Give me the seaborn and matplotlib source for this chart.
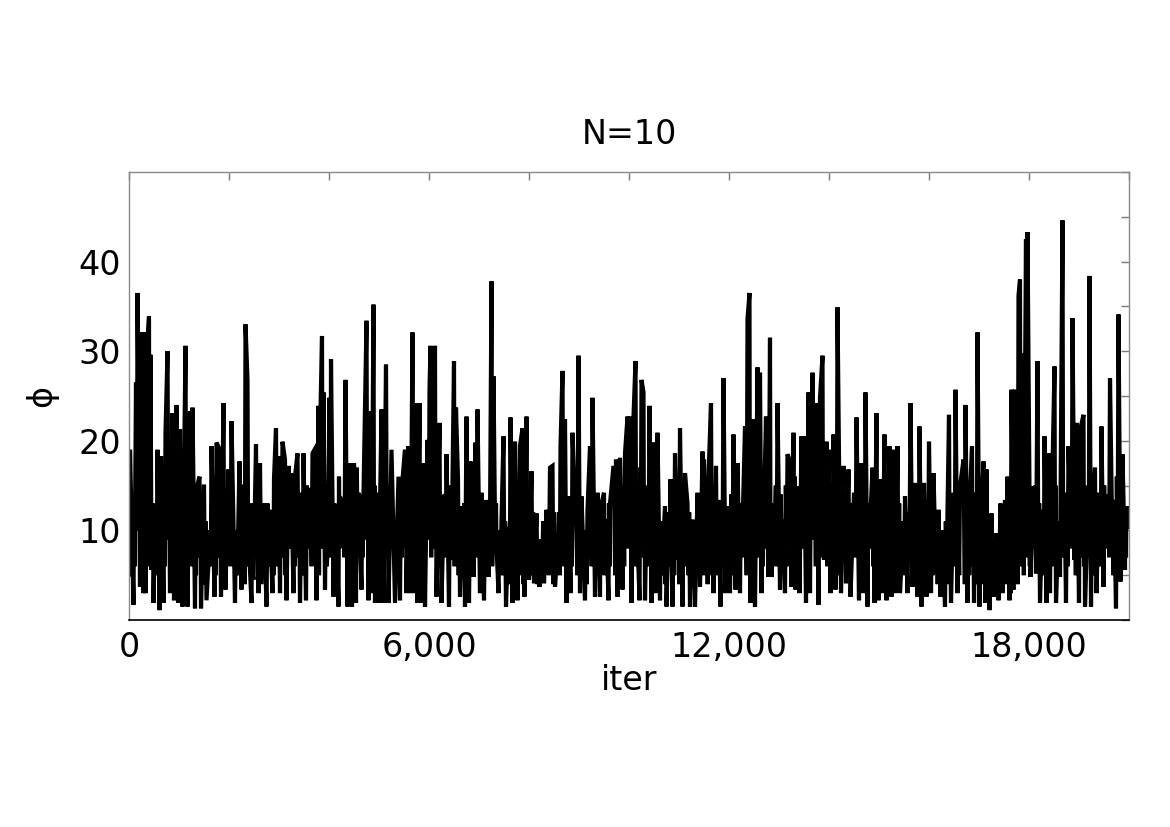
import numpy as np
import pandas as pd
import matplotlib
matplotlib.use("Agg")
import matplotlib.pyplot as plt
import seaborn as sns

# ---- data (iteration, phi): spikes and dips ----
iters_a = [0, 20, 90, 120, 140, 170, 220, 250, 290, 310, 330, 370, 400, 430, 450, 490, 520, 570, 610, 640,
           690, 730, 770, 820, 870, 900, 950, 990, 1020, 1070, 1130, 1170, 1220, 1270, 1320, 1350, 1410, 1440,
           1500, 1550, 1610, 1650, 1710, 1750, 1800, 1840, 1890, 1930, 1990, 2050, 2120, 2170, 2210, 2250,
           2290, 2330, 2370, 2410, 2450, 2490, 2540, 2590, 2620, 2690, 2750, 2810, 2870, 2900, 2940, 2990,
           3020, 3070, 3120, 3150, 3190, 3240, 3290, 3320, 3370, 3420, 3450, 3490, 3540, 3590, 3620, 3670,
           3710, 3750, 3790, 3820, 3860, 3890, 3920, 3970, 4010, 4040, 4090, 4140, 4190, 4220, 4270, 4330,
           4370, 4420, 4460, 4500, 4540, 4590, 4650, 4690, 4750, 4790, 4820, 4850, 4890, 4920, 4950, 4990,
           5050, 5090, 5140, 5190, 5250, 5320, 5390]
phi_a = [5.0, 19.0, 1.7, 10.8, 26.5, 36.5, 3.7, 32.1, 3.0, 32.1, 3.0, 31.3, 33.9, 29.6, 5.6, 1.9, 10.4, 19.0, 1.1, 18.3,
         1.9, 20.9, 30.0, 3.0, 23.1, 2.2, 24.0, 1.9, 21.3, 1.5, 30.6, 1.5, 23.3, 23.7, 1.3, 14.7, 16.0, 1.3,
         15.1, 2.2, 8.6, 19.4, 2.6, 19.8, 19.2, 2.6, 24.2, 3.4, 16.8, 22.2, 1.9, 6.0, 17.7, 3.4,
         15.1, 33.0, 26.8, 6.7, 1.9, 4.5, 19.6, 3.0, 17.5, 13.0, 1.5, 12.3, 3.0, 15.8, 21.4, 18.3,
         3.0, 19.9, 17.9, 2.2, 17.2, 16.4, 3.0, 16.0, 18.6, 1.9, 14.2, 18.6, 2.2, 14.7, 14.2, 18.6,
         19.0, 2.2, 23.9, 20.5, 31.7, 25.4, 3.4, 7.5, 24.8, 29.1, 2.6, 12.7, 1.5, 13.8, 12.7, 26.8,
         1.5, 17.5, 1.5, 17.5, 1.9, 14.2, 3.4, 14.2, 33.4, 2.2, 23.3, 3.0, 35.2, 1.9, 14.2, 1.9,
         23.5, 1.9, 28.5, 1.9, 19.0, 1.9, 16.0]

iters_b = [5420, 5470, 5520, 5550, 5590, 5630, 5670, 5710, 5740, 5770, 5810, 5840, 5890, 5920, 5970, 6010, 6030,
           6070, 6120, 6150, 6210, 6250, 6300, 6350, 6400, 6450, 6500, 6540, 6580, 6620, 6670, 6720, 6750,
           6800, 6830, 6890, 6930, 6970, 7020, 7050, 7100, 7150, 7190, 7220, 7250, 7290, 7320, 7350, 7390,
           7450, 7490, 7540, 7590, 7630, 7670, 7720, 7770, 7820, 7870, 7910, 7950, 8000, 8050, 8100, 8150,
           8210, 8250, 8300, 8350, 8420, 8470, 8520, 8590, 8630, 8670, 8720, 8750, 8790, 8830, 8870, 8920,
           8990, 9020, 9050, 9120, 9170, 9220, 9270, 9320, 9370, 9420, 9450, 9500, 9540, 9590, 9620, 9690,
           9740, 9770, 9820, 9870, 9920, 9970, 10020, 10050, 10090, 10130, 10170, 10210, 10250, 10290,
           10320, 10350, 10410, 10450, 10490, 10530, 10570, 10620, 10670, 10720, 10750, 10790, 10830,
           10870, 10920, 10970, 11020, 11070, 11120, 11170, 11220, 11270, 11320, 11370, 11420, 11470,
           11500, 11540, 11590, 11640, 11690, 11740, 11790, 11830, 11890, 11930, 11970, 12020, 12090,
           12130, 12170, 12220, 12270, 12320, 12370, 12410, 12430, 12470, 12520, 12570, 12620, 12650,
           12690, 12740, 12790, 12820, 12850, 12920, 12970]
phi_b = [2.2, 15.7, 19.0, 3.0, 19.4, 3.0, 32.1, 3.0, 24.2, 1.9, 24.2, 1.9, 17.5, 1.5, 20.1, 25.7, 30.6,
         11.2, 30.6, 2.6, 22.0, 1.9, 13.8, 18.5, 1.5, 6.7, 28.9, 23.7, 15.7, 2.6, 12.7, 1.5, 22.7,
         1.9, 17.7, 4.8, 19.8, 23.5, 3.0, 14.2, 2.2, 13.4, 4.8, 11.2, 37.8, 27.2, 10.8, 8.2, 3.0,
         11.2, 20.5, 1.5, 10.4, 22.6, 1.9, 19.9, 2.2, 19.4, 21.4, 2.6, 22.7, 4.5, 16.6, 4.1, 11.9,
         3.7, 8.9, 4.1, 12.3, 17.0, 17.2, 3.7, 9.3, 19.4, 27.8, 22.4, 1.9, 13.8, 3.0, 20.9, 12.7,
         29.5, 3.0, 13.8, 2.2, 12.3, 19.4, 24.8, 2.6, 14.2, 2.6, 13.0, 14.2, 11.2, 2.2, 13.0, 17.2,
         17.9, 2.6, 18.1, 3.4, 18.6, 22.7, 22.7, 1.9, 22.7, 28.9, 9.3, 2.2, 26.8, 25.4,
         2.2, 11.2, 23.9, 1.9, 19.8, 3.0, 20.9, 2.2, 6.7, 12.7, 1.5, 10.4, 15.7,
         1.5, 18.6, 6.7, 21.4, 1.5, 16.4, 13.0, 1.5, 11.2, 1.5, 14.2, 3.7, 18.8,
         17.9, 6.7, 16.0, 24.2, 3.0, 17.2, 13.4, 1.5, 27.0, 3.0, 12.7, 3.0, 20.7,
         3.4, 17.5, 3.0, 10.4, 21.6, 33.6, 36.5, 1.9, 22.4, 1.5, 28.2, 27.6, 3.0,
         10.4, 22.7, 4.8, 31.5, 4.8, 11.9, 24.2]

iters_c = [13020, 13070, 13120, 13170, 13210, 13250, 13290, 13330, 13370, 13410, 13450, 13500, 13540, 13590,
           13620, 13670, 13710, 13750, 13790, 13820, 13870, 13900, 13950, 13990, 14030, 14090, 14130, 14170,
           14210, 14240, 14290, 14340, 14390, 14430, 14500, 14550, 14600, 14640, 14690, 14730, 14770, 14820,
           14870, 14910, 14950, 14990, 15030, 15070, 15110, 15150, 15210, 15250, 15290, 15330, 15370, 15420,
           15470, 15520, 15570, 15630, 15670, 15720, 15770, 15810, 15850, 15900, 15950, 16000, 16040, 16090,
           16140, 16190, 16230, 16290, 16320, 16370, 16400, 16440, 16490, 16530, 16570, 16620, 16690, 16730,
           16770, 16820, 16860, 16900, 16930, 16970, 17010, 17050, 17090, 17130, 17150, 17210, 17250, 17300,
           17350, 17390, 17430, 17470, 17520, 17570, 17610, 17650, 17690, 17720, 17750, 17790, 17820, 17850,
           17890, 17910, 17940, 17970, 18010, 18030, 18090, 18140, 18170, 18220, 18270, 18310, 18350, 18390,
           18420, 18460, 18510, 18540, 18590, 18620, 18670, 18710, 18740, 18790, 18830, 18870, 18910, 18950,
           19000, 19030, 19090, 19120, 19170, 19210, 19240, 19290, 19320, 19350, 19400, 19450, 19490, 19530,
           19570, 19620, 19660, 19700, 19740, 19790, 19830, 19870, 19920, 19950, 20000]
phi_c = [3.4, 11.2, 3.0, 18.5, 17.9, 3.7, 20.9, 3.4, 14.9, 3.0, 20.5, 20.5, 1.9, 25.4,
         3.0, 27.6, 11.2, 24.2, 1.7, 24.8, 29.5, 6.7, 19.9, 19.0, 3.0, 20.7, 3.4, 34.9,
         12.7, 3.0, 17.2, 4.1, 16.8, 2.6, 14.2, 22.6, 2.2, 17.5, 3.0, 25.4, 1.5, 10.4,
         17.0, 1.9, 23.1, 2.2, 15.7, 3.0, 20.7, 2.2, 19.4, 2.6, 19.0, 3.0, 19.4, 3.0,
         8.6, 13.8, 3.0, 24.2, 3.7, 15.3, 2.6, 21.6, 1.5, 15.3, 2.6, 19.9, 3.0, 16.4,
         5.2, 12.3, 2.6, 6.3, 1.5, 12.3, 22.9, 1.9, 14.2, 25.7, 3.0, 14.9, 17.9, 24.0,
         1.9, 14.2, 19.4, 1.9, 14.2, 32.1, 1.5, 12.7, 17.7, 1.9, 16.8, 1.1, 11.9, 2.6,
         9.7, 2.2, 13.0, 3.0, 13.4, 16.0, 2.2, 25.7, 3.4, 25.7, 11.2, 36.2, 38.0, 10.8,
         29.8, 17.9, 42.5, 43.3, 14.2, 4.8, 14.9, 5.2, 28.9, 1.9, 12.3, 20.5, 1.9, 18.6,
         3.0, 14.2, 28.3, 1.9, 10.4, 4.8, 44.6, 14.2, 1.9, 19.4, 10.4, 33.7, 6.7, 22.0,
         1.9, 21.4, 22.9, 1.5, 10.4, 38.4, 1.5, 14.2, 17.0, 3.0, 14.2, 21.6, 3.7, 10.4,
         11.9, 27.0, 11.2, 13.4, 1.3, 34.1, 4.3, 18.5, 5.6, 12.7, 10.4]

# ---- the dense inner band of the trace, read as (low, high) excursions between the spikes ----
band_a = [(8, 15), (6, 13), (10, 17), (7, 14), (5, 12), (9, 16), (6, 14), (8, 13), (5, 11), (7, 15), (6, 12),
          (9, 14), (5, 13), (7, 12),
          (5, 11), (4, 10), (6, 12), (5, 9), (7, 13), (4, 11), (6, 10), (5, 12), (7, 11), (4, 9),
          (6, 12), (5, 10), (7, 13), (4, 9), (6, 11), (5, 13), (7, 12), (4, 10), (6, 13), (5, 11),
          (6, 12), (7, 13), (5, 10), (8, 14), (6, 11), (7, 13), (5, 12), (8, 15), (6, 11), (7, 14), (5, 12),
          (8, 13), (6, 12),
          (7, 14), (6, 13), (8, 16), (7, 12), (9, 15), (6, 13), (8, 17), (7, 14), (9, 16), (6, 12), (8, 15),
          (7, 13), (9, 14), (7, 15)]
band_b = [(7, 14), (8, 15), (6, 13), (9, 16), (7, 14), (8, 13), (6, 15), (9, 14), (7, 13), (8, 16), (6, 12),
          (7, 14), (8, 15),
          (6, 12), (5, 11), (7, 13), (6, 10), (5, 12), (7, 11), (6, 13), (5, 10), (7, 12), (6, 11), (8, 13),
          (5, 10),
          (5, 11), (4, 10), (6, 12), (5, 9), (4, 11), (6, 10), (5, 12), (4, 9), (6, 11), (5, 10), (4, 12),
          (5, 12), (6, 11), (4, 10), (6, 13), (5, 11), (7, 12), (4, 10), (6, 12), (5, 11), (6, 13), (5, 10),
          (6, 13), (5, 12), (7, 14), (6, 13), (8, 15), (7, 16), (6, 14), (8, 17), (7, 15), (6, 13), (8, 14),
          (6, 12),
          (5, 11), (4, 10), (6, 12), (5, 9), (4, 11), (6, 10), (5, 12), (4, 9), (6, 11), (5, 10), (4, 12),
          (5, 11),
          (5, 12), (6, 13), (7, 12), (5, 14), (6, 11), (7, 13), (5, 12), (8, 14), (6, 13), (7, 15), (6, 12),
          (8, 14), (7, 13), (6, 15), (8, 14), (7, 13), (6, 14)]
band_c = [(7, 14), (6, 15), (8, 13), (7, 16), (6, 14), (8, 15), (7, 13), (9, 16), (6, 14), (8, 15), (7, 14),
          (6, 13),
          (6, 13), (7, 15), (5, 12), (8, 14), (6, 13), (7, 12), (5, 14), (6, 12), (8, 13), (6, 11), (7, 14),
          (5, 12),
          (5, 12), (6, 11), (4, 10), (6, 13), (5, 11), (7, 12), (4, 10), (6, 12), (5, 11), (6, 13), (5, 10),
          (4, 11),
          (4, 10), (5, 11), (4, 9), (6, 12), (5, 10), (4, 11), (5, 9), (6, 12), (4, 10), (5, 11), (4, 9),
          (5, 10),
          (4, 9), (3, 8), (5, 10), (4, 8), (3, 9), (5, 10), (4, 8), (6, 11), (5, 12), (7, 14), (6, 13),
          (8, 15),
          (6, 13), (5, 12), (7, 14), (6, 12), (8, 15), (5, 11), (7, 13), (6, 14), (8, 16), (5, 12), (7, 13),
          (6, 15), (8, 14), (5, 11), (7, 13), (6, 12), (8, 15), (7, 14), (5, 12), (8, 16), (6, 13), (7, 12),
          (8, 15), (6, 14), (7, 13)]

x_tick_values = list(range(0, 20001, 2000))
x_tick_labels = ["0", "", "", "6,000", "", "", "12,000", "", "", "18,000", ""]
y_tick_values = list(range(0, 51, 5))
y_tick_labels = ["", "", "10", "", "20", "", "30", "", "40", "", ""]
title_text = "N=10"
x_label = "iter"
y_label = "ϕ"


def assemble(iters, vals, band):
    """Merge the read spikes with the band excursions that lie between them."""
    xs, ys, k = [], [], 0
    for i in range(len(iters) - 1):
        xs.append(iters[i])
        ys.append(vals[i])
        if i % 2 == 0 and k < len(band):
            lo, hi = band[k]
            k += 1
            x0, x1 = iters[i], iters[i + 1]
            pair = (hi, lo) if vals[i + 1] > vals[i] else (lo, hi)
            xs += [x0 + (x1 - x0) / 3.0, x0 + 2.0 * (x1 - x0) / 3.0]
            ys += list(pair)
    xs.append(iters[-1])
    ys.append(vals[-1])
    return xs, ys


xs, ys = [], []
for it, ph, bd in [(iters_a, phi_a, band_a), (iters_b, phi_b, band_b), (iters_c, phi_c, band_c)]:
    a, b = assemble(it, ph, bd)
    xs += a
    ys += b

df = pd.DataFrame({"iter": xs, "phi": ys})

sns.set_style("white")
plt.rcParams["font.family"] = ["DejaVu Sans"]
plt.rcParams["text.color"] = "black"
plt.rcParams["axes.labelcolor"] = "black"
plt.rcParams["xtick.labelcolor"] = "black"
plt.rcParams["ytick.labelcolor"] = "black"

fig = plt.figure(figsize=(11.7, 8.27), dpi=100)
ax = fig.add_axes([129 / 1170, 1 - 620 / 827, 1000 / 1170, 448 / 827])

sns.lineplot(data=df, x="iter", y="phi", ax=ax, color="black", linewidth=3.0,
             estimator=None, sort=False)
ax.lines[0].set_solid_joinstyle("miter")

ax.set_xlim(0, 20000)
ax.set_ylim(0, 50)
ax.set_xticks(x_tick_values)
ax.set_xticklabels(x_tick_labels)
ax.set_yticks(y_tick_values)
ax.set_yticklabels(y_tick_labels)
ax.tick_params(axis="both", direction="in", top=True, right=True, length=6,
               width=1, color="#7a7a7a", labelsize=24, labelcolor="black")
ax.tick_params(axis="x", pad=8)
ax.tick_params(axis="y", pad=6)

for side in ["left", "top", "right"]:
    ax.spines[side].set_color("#8a8a8a")
    ax.spines[side].set_linewidth(1.0)
ax.spines["bottom"].set_color("black")
ax.spines["bottom"].set_linewidth(1.2)

ax.set_title(title_text, fontsize=24, pad=20, color="black")
ax.set_xlabel(x_label, fontsize=24, labelpad=0, color="black")
ax.set_ylabel(y_label, fontsize=24, labelpad=14, color="black")

fig.savefig("out.png", dpi=100)
